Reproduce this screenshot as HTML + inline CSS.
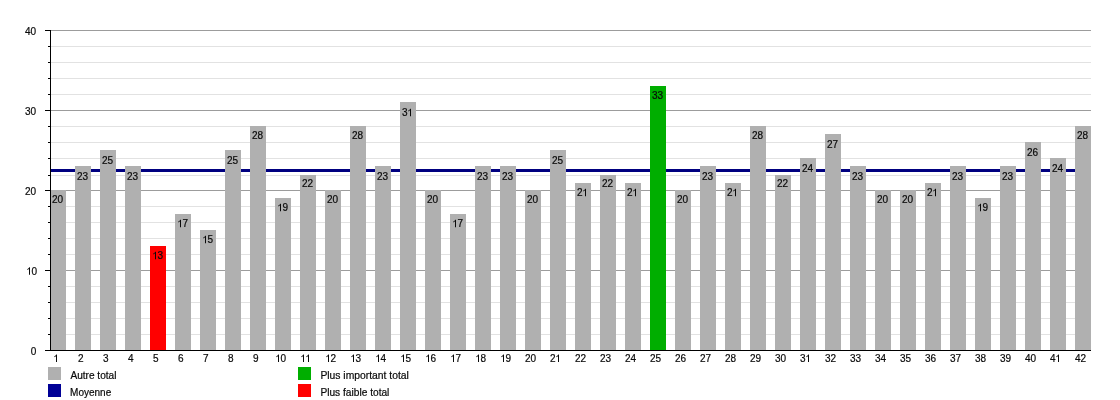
<!DOCTYPE html>
<html><head><meta charset="utf-8"><title>Chart</title>
<style>
html,body{margin:0;padding:0;background:#fff;}
body{width:1120px;height:400px;overflow:hidden;}
svg{display:block;will-change:transform;}
svg text{font-family:"Liberation Sans",sans-serif;font-size:10px;fill:#0a0a0a;stroke:#0a0a0a;stroke-width:0.2;}
svg path{fill:#0a0a0a;}
</style></head><body>
<svg width="1120" height="400" viewBox="0 0 1120 400">
<rect width="1120" height="400" fill="#fff"/>
<g shape-rendering="crispEdges">
<rect x="51" y="334" width="1040" height="1" fill="#e2e2e2"/>
<rect x="51" y="318" width="1040" height="1" fill="#e2e2e2"/>
<rect x="51" y="302" width="1040" height="1" fill="#e2e2e2"/>
<rect x="51" y="286" width="1040" height="1" fill="#e2e2e2"/>
<rect x="51" y="270" width="1040" height="1" fill="#9c9c9c"/>
<rect x="51" y="254" width="1040" height="1" fill="#e2e2e2"/>
<rect x="51" y="238" width="1040" height="1" fill="#e2e2e2"/>
<rect x="51" y="222" width="1040" height="1" fill="#e2e2e2"/>
<rect x="51" y="206" width="1040" height="1" fill="#e2e2e2"/>
<rect x="51" y="190" width="1040" height="1" fill="#9c9c9c"/>
<rect x="51" y="175" width="1040" height="1" fill="#e2e2e2"/>
<rect x="51" y="158" width="1040" height="1" fill="#e2e2e2"/>
<rect x="51" y="142" width="1040" height="1" fill="#e2e2e2"/>
<rect x="51" y="126" width="1040" height="1" fill="#e2e2e2"/>
<rect x="51" y="110" width="1040" height="1" fill="#9c9c9c"/>
<rect x="51" y="94" width="1040" height="1" fill="#e2e2e2"/>
<rect x="51" y="78" width="1040" height="1" fill="#e2e2e2"/>
<rect x="51" y="62" width="1040" height="1" fill="#e2e2e2"/>
<rect x="51" y="46" width="1040" height="1" fill="#e2e2e2"/>
<rect x="51" y="30" width="1040" height="1" fill="#9c9c9c"/>
<rect x="51" y="169" width="1040" height="3" fill="#000080"/>
<rect x="50" y="190" width="16" height="160" fill="#b0b0b0"/>
<rect x="75" y="166" width="16" height="184" fill="#b0b0b0"/>
<rect x="100" y="150" width="16" height="200" fill="#b0b0b0"/>
<rect x="125" y="166" width="16" height="184" fill="#b0b0b0"/>
<rect x="150" y="246" width="16" height="104" fill="#ff0000"/>
<rect x="175" y="214" width="16" height="136" fill="#b0b0b0"/>
<rect x="200" y="230" width="16" height="120" fill="#b0b0b0"/>
<rect x="225" y="150" width="16" height="200" fill="#b0b0b0"/>
<rect x="250" y="126" width="16" height="224" fill="#b0b0b0"/>
<rect x="275" y="198" width="16" height="152" fill="#b0b0b0"/>
<rect x="300" y="175" width="16" height="175" fill="#b0b0b0"/>
<rect x="325" y="190" width="16" height="160" fill="#b0b0b0"/>
<rect x="350" y="126" width="16" height="224" fill="#b0b0b0"/>
<rect x="375" y="166" width="16" height="184" fill="#b0b0b0"/>
<rect x="400" y="102" width="16" height="248" fill="#b0b0b0"/>
<rect x="425" y="190" width="16" height="160" fill="#b0b0b0"/>
<rect x="450" y="214" width="16" height="136" fill="#b0b0b0"/>
<rect x="475" y="166" width="16" height="184" fill="#b0b0b0"/>
<rect x="500" y="166" width="16" height="184" fill="#b0b0b0"/>
<rect x="525" y="190" width="16" height="160" fill="#b0b0b0"/>
<rect x="550" y="150" width="16" height="200" fill="#b0b0b0"/>
<rect x="575" y="183" width="16" height="167" fill="#b0b0b0"/>
<rect x="600" y="175" width="16" height="175" fill="#b0b0b0"/>
<rect x="625" y="183" width="16" height="167" fill="#b0b0b0"/>
<rect x="650" y="86" width="16" height="264" fill="#00ae00"/>
<rect x="675" y="190" width="16" height="160" fill="#b0b0b0"/>
<rect x="700" y="166" width="16" height="184" fill="#b0b0b0"/>
<rect x="725" y="183" width="16" height="167" fill="#b0b0b0"/>
<rect x="750" y="126" width="16" height="224" fill="#b0b0b0"/>
<rect x="775" y="175" width="16" height="175" fill="#b0b0b0"/>
<rect x="800" y="158" width="16" height="192" fill="#b0b0b0"/>
<rect x="825" y="134" width="16" height="216" fill="#b0b0b0"/>
<rect x="850" y="166" width="16" height="184" fill="#b0b0b0"/>
<rect x="875" y="190" width="16" height="160" fill="#b0b0b0"/>
<rect x="900" y="190" width="16" height="160" fill="#b0b0b0"/>
<rect x="925" y="183" width="16" height="167" fill="#b0b0b0"/>
<rect x="950" y="166" width="16" height="184" fill="#b0b0b0"/>
<rect x="975" y="198" width="16" height="152" fill="#b0b0b0"/>
<rect x="1000" y="166" width="16" height="184" fill="#b0b0b0"/>
<rect x="1025" y="142" width="16" height="208" fill="#b0b0b0"/>
<rect x="1050" y="158" width="16" height="192" fill="#b0b0b0"/>
<rect x="1075" y="126" width="16" height="224" fill="#b0b0b0"/>
<rect x="50" y="30" width="1" height="321" fill="#000"/>
<rect x="45" y="350" width="1046" height="1" fill="#000"/>
<rect x="45" y="350" width="5" height="1" fill="#000"/>
<rect x="48" y="334" width="2" height="1" fill="#000"/>
<rect x="48" y="318" width="2" height="1" fill="#000"/>
<rect x="48" y="302" width="2" height="1" fill="#000"/>
<rect x="48" y="286" width="2" height="1" fill="#000"/>
<rect x="45" y="270" width="5" height="1" fill="#000"/>
<rect x="48" y="254" width="2" height="1" fill="#000"/>
<rect x="48" y="238" width="2" height="1" fill="#000"/>
<rect x="48" y="222" width="2" height="1" fill="#000"/>
<rect x="48" y="206" width="2" height="1" fill="#000"/>
<rect x="45" y="190" width="5" height="1" fill="#000"/>
<rect x="48" y="175" width="2" height="1" fill="#000"/>
<rect x="48" y="158" width="2" height="1" fill="#000"/>
<rect x="48" y="142" width="2" height="1" fill="#000"/>
<rect x="48" y="126" width="2" height="1" fill="#000"/>
<rect x="45" y="110" width="5" height="1" fill="#000"/>
<rect x="48" y="94" width="2" height="1" fill="#000"/>
<rect x="48" y="78" width="2" height="1" fill="#000"/>
<rect x="48" y="62" width="2" height="1" fill="#000"/>
<rect x="48" y="46" width="2" height="1" fill="#000"/>
<rect x="45" y="30" width="5" height="1" fill="#000"/>
</g>
<text x="30.84" y="354.8">0</text>
<path d="M30.00 274.80 L29.00 274.80 L29.00 268.96 Q28.68 269.27 28.17 269.59 Q27.65 269.90 27.24 270.06 L27.24 269.18 Q27.98 268.81 28.53 268.30 Q29.08 267.78 29.31 267.30 L30.00 267.30 Z"/><text x="31.54" y="274.8">0</text>
<text x="24.88" y="194.8">20</text>
<text x="24.88" y="114.8">30</text>
<text x="24.88" y="34.8">40</text>
<path d="M57.00 362.00 L56.00 362.00 L56.00 356.16 Q55.68 356.47 55.17 356.79 Q54.65 357.10 54.24 357.26 L54.24 356.38 Q54.98 356.01 55.53 355.50 Q56.08 354.98 56.31 354.50 L57.00 354.50 Z"/>
<text x="51.94" y="203.2">20</text>
<text x="78.12" y="362">2</text>
<text x="76.94" y="180.2">23</text>
<text x="103.12" y="362">3</text>
<text x="101.94" y="164.2">25</text>
<text x="128.12" y="362">4</text>
<text x="126.94" y="180.2">23</text>
<text x="153.12" y="362">5</text>
<path d="M156.00 259.20 L155.00 259.20 L155.00 253.36 Q154.68 253.67 154.17 253.99 Q153.65 254.30 153.24 254.46 L153.24 253.57 Q153.98 253.21 154.53 252.70 Q155.08 252.18 155.31 251.70 L156.00 251.70 Z"/><text x="157.50" y="259.2">3</text>
<text x="178.12" y="362">6</text>
<path d="M181.00 227.20 L180.00 227.20 L180.00 221.36 Q179.68 221.67 179.17 221.99 Q178.65 222.30 178.24 222.46 L178.24 221.57 Q178.98 221.21 179.53 220.70 Q180.08 220.18 180.31 219.70 L181.00 219.70 Z"/><text x="182.50" y="227.2">7</text>
<text x="203.12" y="362">7</text>
<path d="M206.00 243.20 L205.00 243.20 L205.00 237.36 Q204.68 237.67 204.17 237.99 Q203.65 238.30 203.24 238.46 L203.24 237.57 Q203.98 237.21 204.53 236.70 Q205.08 236.18 205.31 235.70 L206.00 235.70 Z"/><text x="207.50" y="243.2">5</text>
<text x="228.12" y="362">8</text>
<text x="226.94" y="164.2">25</text>
<text x="253.12" y="362">9</text>
<text x="251.94" y="139.2">28</text>
<path d="M279.00 362.00 L278.00 362.00 L278.00 356.16 Q277.68 356.47 277.17 356.79 Q276.65 357.10 276.24 357.26 L276.24 356.38 Q276.98 356.01 277.53 355.50 Q278.08 354.98 278.31 354.50 L279.00 354.50 Z"/><text x="280.50" y="362">0</text>
<path d="M281.00 211.20 L280.00 211.20 L280.00 205.36 Q279.68 205.67 279.17 205.99 Q278.65 206.30 278.24 206.46 L278.24 205.57 Q278.98 205.21 279.53 204.70 Q280.08 204.18 280.31 203.70 L281.00 203.70 Z"/><text x="282.50" y="211.2">9</text>
<path d="M304.00 362.00 L303.00 362.00 L303.00 356.16 Q302.68 356.47 302.17 356.79 Q301.65 357.10 301.24 357.26 L301.24 356.38 Q301.98 356.01 302.53 355.50 Q303.08 354.98 303.31 354.50 L304.00 354.50 Z"/><path d="M309.00 362.00 L308.00 362.00 L308.00 356.16 Q307.68 356.47 307.17 356.79 Q306.65 357.10 306.24 357.26 L306.24 356.38 Q306.98 356.01 307.53 355.50 Q308.08 354.98 308.31 354.50 L309.00 354.50 Z"/>
<text x="301.94" y="187.2">22</text>
<path d="M329.00 362.00 L328.00 362.00 L328.00 356.16 Q327.68 356.47 327.17 356.79 Q326.65 357.10 326.24 357.26 L326.24 356.38 Q326.98 356.01 327.53 355.50 Q328.08 354.98 328.31 354.50 L329.00 354.50 Z"/><text x="330.50" y="362">2</text>
<text x="326.94" y="203.2">20</text>
<path d="M354.00 362.00 L353.00 362.00 L353.00 356.16 Q352.68 356.47 352.17 356.79 Q351.65 357.10 351.24 357.26 L351.24 356.38 Q351.98 356.01 352.53 355.50 Q353.08 354.98 353.31 354.50 L354.00 354.50 Z"/><text x="355.50" y="362">3</text>
<text x="351.94" y="139.2">28</text>
<path d="M379.00 362.00 L378.00 362.00 L378.00 356.16 Q377.68 356.47 377.17 356.79 Q376.65 357.10 376.24 357.26 L376.24 356.38 Q376.98 356.01 377.53 355.50 Q378.08 354.98 378.31 354.50 L379.00 354.50 Z"/><text x="380.50" y="362">4</text>
<text x="376.94" y="180.2">23</text>
<path d="M404.00 362.00 L403.00 362.00 L403.00 356.16 Q402.68 356.47 402.17 356.79 Q401.65 357.10 401.24 357.26 L401.24 356.38 Q401.98 356.01 402.53 355.50 Q403.08 354.98 403.31 354.50 L404.00 354.50 Z"/><text x="405.50" y="362">5</text>
<text x="401.94" y="116.2">3</text><path d="M411.00 116.20 L410.00 116.20 L410.00 110.36 Q409.68 110.67 409.17 110.99 Q408.65 111.30 408.24 111.46 L408.24 110.58 Q408.98 110.21 409.53 109.70 Q410.08 109.18 410.31 108.70 L411.00 108.70 Z"/>
<path d="M429.00 362.00 L428.00 362.00 L428.00 356.16 Q427.68 356.47 427.17 356.79 Q426.65 357.10 426.24 357.26 L426.24 356.38 Q426.98 356.01 427.53 355.50 Q428.08 354.98 428.31 354.50 L429.00 354.50 Z"/><text x="430.50" y="362">6</text>
<text x="426.94" y="203.2">20</text>
<path d="M454.00 362.00 L453.00 362.00 L453.00 356.16 Q452.68 356.47 452.17 356.79 Q451.65 357.10 451.24 357.26 L451.24 356.38 Q451.98 356.01 452.53 355.50 Q453.08 354.98 453.31 354.50 L454.00 354.50 Z"/><text x="455.50" y="362">7</text>
<path d="M456.00 227.20 L455.00 227.20 L455.00 221.36 Q454.68 221.67 454.17 221.99 Q453.65 222.30 453.24 222.46 L453.24 221.57 Q453.98 221.21 454.53 220.70 Q455.08 220.18 455.31 219.70 L456.00 219.70 Z"/><text x="457.50" y="227.2">7</text>
<path d="M479.00 362.00 L478.00 362.00 L478.00 356.16 Q477.68 356.47 477.17 356.79 Q476.65 357.10 476.24 357.26 L476.24 356.38 Q476.98 356.01 477.53 355.50 Q478.08 354.98 478.31 354.50 L479.00 354.50 Z"/><text x="480.50" y="362">8</text>
<text x="476.94" y="180.2">23</text>
<path d="M504.00 362.00 L503.00 362.00 L503.00 356.16 Q502.68 356.47 502.17 356.79 Q501.65 357.10 501.24 357.26 L501.24 356.38 Q501.98 356.01 502.53 355.50 Q503.08 354.98 503.31 354.50 L504.00 354.50 Z"/><text x="505.50" y="362">9</text>
<text x="501.94" y="180.2">23</text>
<text x="524.94" y="362">20</text>
<text x="526.94" y="203.2">20</text>
<text x="549.94" y="362">2</text><path d="M559.00 362.00 L558.00 362.00 L558.00 356.16 Q557.68 356.47 557.17 356.79 Q556.65 357.10 556.24 357.26 L556.24 356.38 Q556.98 356.01 557.53 355.50 Q558.08 354.98 558.31 354.50 L559.00 354.50 Z"/>
<text x="551.94" y="164.2">25</text>
<text x="574.94" y="362">22</text>
<text x="576.94" y="196.2">2</text><path d="M586.00 196.20 L585.00 196.20 L585.00 190.36 Q584.68 190.67 584.17 190.99 Q583.65 191.30 583.24 191.46 L583.24 190.57 Q583.98 190.21 584.53 189.70 Q585.08 189.18 585.31 188.70 L586.00 188.70 Z"/>
<text x="599.94" y="362">23</text>
<text x="601.94" y="187.2">22</text>
<text x="624.94" y="362">24</text>
<text x="626.94" y="196.2">2</text><path d="M636.00 196.20 L635.00 196.20 L635.00 190.36 Q634.68 190.67 634.17 190.99 Q633.65 191.30 633.24 191.46 L633.24 190.57 Q633.98 190.21 634.53 189.70 Q635.08 189.18 635.31 188.70 L636.00 188.70 Z"/>
<text x="649.94" y="362">25</text>
<text x="651.94" y="99.2">33</text>
<text x="674.94" y="362">26</text>
<text x="676.94" y="203.2">20</text>
<text x="699.94" y="362">27</text>
<text x="701.94" y="180.2">23</text>
<text x="724.94" y="362">28</text>
<text x="726.94" y="196.2">2</text><path d="M736.00 196.20 L735.00 196.20 L735.00 190.36 Q734.68 190.67 734.17 190.99 Q733.65 191.30 733.24 191.46 L733.24 190.57 Q733.98 190.21 734.53 189.70 Q735.08 189.18 735.31 188.70 L736.00 188.70 Z"/>
<text x="749.94" y="362">29</text>
<text x="751.94" y="139.2">28</text>
<text x="774.94" y="362">30</text>
<text x="776.94" y="187.2">22</text>
<text x="799.94" y="362">3</text><path d="M809.00 362.00 L808.00 362.00 L808.00 356.16 Q807.68 356.47 807.17 356.79 Q806.65 357.10 806.24 357.26 L806.24 356.38 Q806.98 356.01 807.53 355.50 Q808.08 354.98 808.31 354.50 L809.00 354.50 Z"/>
<text x="801.94" y="172.2">24</text>
<text x="824.94" y="362">32</text>
<text x="826.94" y="148.2">27</text>
<text x="849.94" y="362">33</text>
<text x="851.94" y="180.2">23</text>
<text x="874.94" y="362">34</text>
<text x="876.94" y="203.2">20</text>
<text x="899.94" y="362">35</text>
<text x="901.94" y="203.2">20</text>
<text x="924.94" y="362">36</text>
<text x="926.94" y="196.2">2</text><path d="M936.00 196.20 L935.00 196.20 L935.00 190.36 Q934.68 190.67 934.17 190.99 Q933.65 191.30 933.24 191.46 L933.24 190.57 Q933.98 190.21 934.53 189.70 Q935.08 189.18 935.31 188.70 L936.00 188.70 Z"/>
<text x="949.94" y="362">37</text>
<text x="951.94" y="180.2">23</text>
<text x="974.94" y="362">38</text>
<path d="M981.00 211.20 L980.00 211.20 L980.00 205.36 Q979.68 205.67 979.17 205.99 Q978.65 206.30 978.24 206.46 L978.24 205.57 Q978.98 205.21 979.53 204.70 Q980.08 204.18 980.31 203.70 L981.00 203.70 Z"/><text x="982.50" y="211.2">9</text>
<text x="999.94" y="362">39</text>
<text x="1001.94" y="180.2">23</text>
<text x="1024.94" y="362">40</text>
<text x="1026.94" y="156.2">26</text>
<text x="1049.94" y="362">4</text><path d="M1059.00 362.00 L1058.00 362.00 L1058.00 356.16 Q1057.68 356.47 1057.17 356.79 Q1056.65 357.10 1056.24 357.26 L1056.24 356.38 Q1056.98 356.01 1057.53 355.50 Q1058.08 354.98 1058.31 354.50 L1059.00 354.50 Z"/>
<text x="1051.94" y="172.2">24</text>
<text x="1074.94" y="362">42</text>
<text x="1076.94" y="139.2">28</text>
<g shape-rendering="crispEdges">
<rect x="48" y="367" width="13" height="13" fill="#b0b0b0"/>
<rect x="48" y="384" width="13" height="13" fill="#000096"/>
<rect x="298" y="367" width="13" height="13" fill="#00ae00"/>
<rect x="298" y="384" width="13" height="13" fill="#ff0000"/>
</g>
<text x="70.4" y="378.6" textLength="46.1" lengthAdjust="spacingAndGlyphs">Autre total</text>
<text x="70.1" y="395.6">Moyenne</text>
<text x="320.4" y="378.6" textLength="88.5" lengthAdjust="spacingAndGlyphs">Plus important total</text>
<text x="320.4" y="395.6" textLength="69.0" lengthAdjust="spacingAndGlyphs">Plus faible total</text>
</svg>
</body></html>
